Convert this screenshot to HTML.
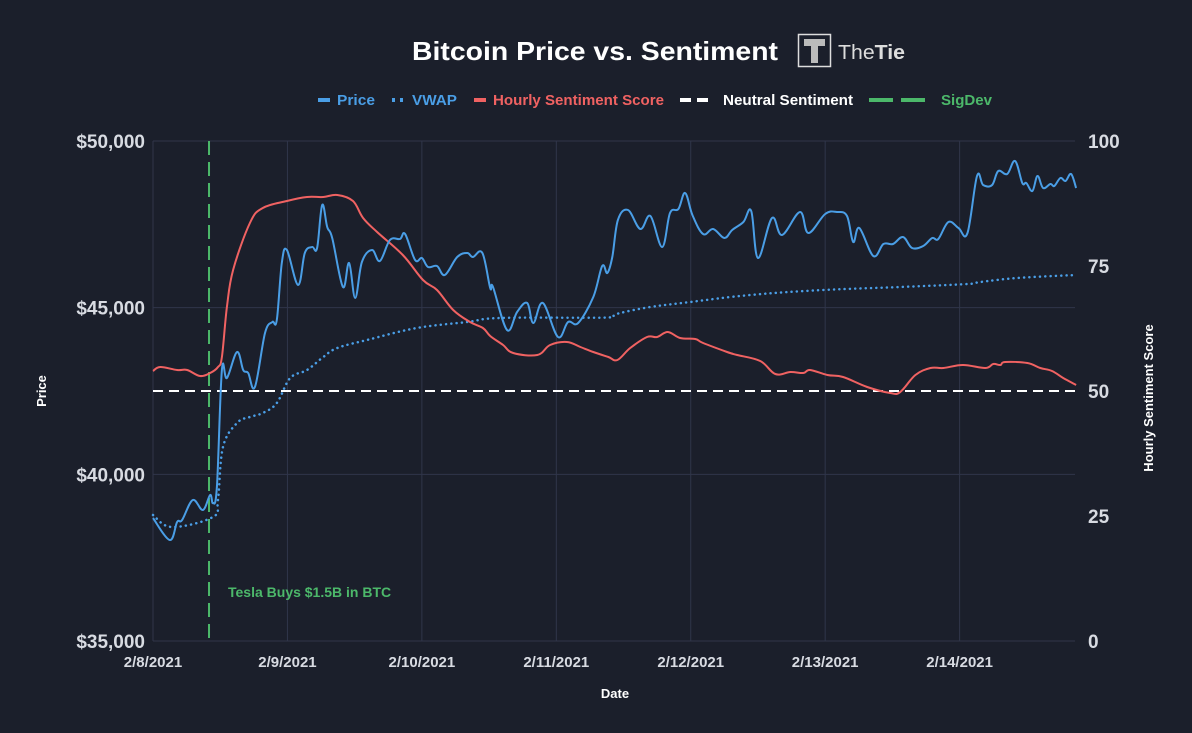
<!DOCTYPE html>
<html><head><meta charset="utf-8"><style>
html,body{margin:0;padding:0;background:#1b1f2b;}
svg{display:block;font-family:"Liberation Sans",sans-serif;}
</style></head><body>
<svg id="chart" width="1192" height="733" viewBox="0 0 1192 733">
<rect x="0" y="0" width="1192" height="733" fill="#1b1f2b"/>
<text x="412" y="60" textLength="366" lengthAdjust="spacingAndGlyphs" font-size="26" font-weight="bold" fill="#fff">Bitcoin Price vs. Sentiment</text>
<g>
<rect x="798.5" y="34.5" width="32" height="32" fill="none" stroke="#ddd" stroke-width="1.5"/>
<rect x="804" y="39" width="21" height="7" fill="#bbb"/>
<rect x="811" y="46" width="7" height="17" fill="#bbb"/>
<text x="838" y="59" font-size="20" fill="#ddd" textLength="67" lengthAdjust="spacingAndGlyphs">The<tspan font-weight="bold">Tie</tspan></text>
</g>
<g id="legend" font-size="15" font-weight="bold">
<g><line x1="318" y1="100" x2="330" y2="100" stroke="#4a9ee6" stroke-width="4"/><text x="337" y="105" fill="#4a9ee6" textLength="38" lengthAdjust="spacingAndGlyphs">Price</text></g>
<g><line x1="392" y1="100" x2="404" y2="100" stroke="#4a9ee6" stroke-width="4" stroke-dasharray="3,5"/><text x="412" y="105" fill="#4a9ee6" textLength="45" lengthAdjust="spacingAndGlyphs">VWAP</text></g>
<g><line x1="474" y1="100" x2="486" y2="100" stroke="#f06262" stroke-width="4"/><text x="493" y="105" fill="#f06262" textLength="171" lengthAdjust="spacingAndGlyphs">Hourly Sentiment Score</text></g>
<g><line x1="680" y1="100" x2="708" y2="100" stroke="#fff" stroke-width="4" stroke-dasharray="11,6"/><text x="723" y="105" fill="#fff" textLength="130" lengthAdjust="spacingAndGlyphs">Neutral Sentiment</text></g>
<g><line x1="869" y1="100" x2="925" y2="100" stroke="#4cb86a" stroke-width="4" stroke-dasharray="24,8"/><text x="941" y="105" fill="#4cb86a" textLength="51" lengthAdjust="spacingAndGlyphs">SigDev</text></g>
</g>
<g id="grid"></g>
<g id="axes"></g>
<g id="series"></g>
<text transform="translate(46,391) rotate(-90)" text-anchor="middle" font-size="13" font-weight="bold" fill="#fff">Price</text>
<text transform="translate(1153,398) rotate(-90)" text-anchor="middle" font-size="13" font-weight="bold" fill="#fff">Hourly Sentiment Score</text>
<text x="615" y="698" text-anchor="middle" font-size="13" font-weight="bold" fill="#fff">Date</text>
</svg>
<script>
const dateLabels=["2/8/2021","2/9/2021","2/10/2021","2/11/2021","2/12/2021","2/13/2021","2/14/2021"];
const priceTicks=[35000,40000,45000,50000];
const sentTicks=[0,25,50,75,100];
const priceHours=[0,3,4.3,5.2,7.1,8.9,10.2,10.7,11.4,12.3,13.2,15,16.1,17,18.2,20,21.3,22.1,23,23.9,25.9,27.1,28.4,29.3,30.2,31.1,32,33.9,35,36.1,37.3,39.1,40.5,42.3,44.1,45,46.8,48,49.1,50.7,52.1,54.3,56.1,57.1,58.8,60.2,60.7,63.2,65,66.8,67.9,69.6,72.3,74.1,75.9,78.6,80.2,81.1,82,83,84.8,87,88.8,90.9,92.3,93.8,95,96.3,98.2,100,102,103.4,105.4,106.8,108,110.5,112.3,115.5,117,120,122.1,123.9,125,126.1,128.6,130.4,132.1,133.9,135.5,137.5,139.1,140.2,142,143.8,145.4,147.1,148.2,149.8,150.9,152.5,153.9,155.2,155.9,157,157.9,158.9,160.2,160.9,162,162.9,163.9,164.8];
const priceValues=[38690,38030,38570,38630,39230,38930,39380,39140,39620,43130,42890,43670,43130,43040,42620,44240,44570,44630,46340,46730,45680,46640,46820,46790,48080,47420,47090,45620,46340,45290,46370,46730,46400,47030,47060,47210,46430,46490,46220,46250,45980,46520,46640,46520,46640,45590,45620,44330,44870,45140,44540,45140,44120,44570,44540,45320,46250,46040,46520,47630,47930,47360,47750,46820,47840,47960,48440,47780,47210,47360,47090,47330,47570,47900,46490,47690,47180,47870,47240,47810,47870,47750,46970,47390,46550,46910,46910,47120,46790,46850,47090,47060,47570,47390,47240,48950,48680,48680,49100,49010,49400,48740,48740,48500,48950,48590,48710,48650,48890,48800,49010,48590];
const vwapHours=[0,3.4,10.7,11.6,12.5,15,17.3,19.6,22.1,24.5,27.5,30.4,32.9,38.2,47.1,56.1,62,79.8,82.1,83.4,88.8,95.9,106.6,119.6,133.4,145.4,147.7,154.3,164.8];
const vwapValues=[38780,38420,38720,39230,40820,41540,41720,41840,42140,42890,43130,43520,43790,44030,44390,44570,44690,44700,44750,44840,45020,45170,45380,45530,45620,45710,45770,45890,45980];
const sentHours=[0,1.3,4.3,6.1,8.4,10.2,11.6,12.3,13.2,14.3,17.3,19.6,23.9,27.5,30.4,32.9,35.7,37.5,40,44.6,48.2,50.7,53.6,56.6,58.9,60.2,62.5,64.3,68.6,70.9,73.9,76.3,78.6,81.3,82.9,85.2,88.2,90,91.9,94.1,96.8,98.2,102.5,104.3,108.4,111.1,113.8,116.1,117.3,120.4,123.2,127.5,131.6,133.4,136.1,138.8,141.1,144.6,148.6,150,151.3,152.1,156.1,158.4,160.5,162.5,164.8];
const sentValues=[54,54.8,54.2,54.2,53,53.6,54.8,56.8,66.8,74.2,83.6,86.6,88,88.8,88.8,89.2,88,84.6,81.8,77.2,72.2,70.2,66.2,63.8,62.6,61,59.2,57.6,57.2,59.2,59.8,58.8,57.8,56.8,56.2,58.6,60.8,60.8,61.8,60.6,60.4,59.6,57.8,57.2,56,53.4,53.8,53.6,54.2,53.2,52.8,50.8,49.6,49.8,53.2,54.6,54.6,55.2,54.6,55.4,55.2,55.8,55.6,54.6,54,52.6,51.2];
const neutralLevel=50;
const sigDevHour=10;
const sigDevLabel="Tesla Buys $1.5B in BTC";

const NS="http://www.w3.org/2000/svg";
const X0=153,X1=1075,Y0=641,Y1=141,HMAX=164.6;
const xs=h=>X0+(X1-X0)*h/HMAX;
const yp=p=>Y0-(p-35000)/15000*(Y0-Y1);
const ys=s=>Y0-s/100*(Y0-Y1);
function mk(tag,attrs,parent){const e=document.createElementNS(NS,tag);for(const k in attrs)e.setAttribute(k,attrs[k]);parent.appendChild(e);return e;}
function smooth(pts){let d="M"+pts[0][0].toFixed(1)+","+pts[0][1].toFixed(1);
 for(let i=0;i<pts.length-1;i++){const p0=pts[Math.max(0,i-1)],p1=pts[i],p2=pts[i+1],p3=pts[Math.min(pts.length-1,i+2)];
 const t=0.18;const c1=[p1[0]+(p2[0]-p0[0])*t,p1[1]+(p2[1]-p0[1])*t],c2=[p2[0]-(p3[0]-p1[0])*t,p2[1]-(p3[1]-p1[1])*t];
 d+=" C"+c1[0].toFixed(1)+","+c1[1].toFixed(1)+" "+c2[0].toFixed(1)+","+c2[1].toFixed(1)+" "+p2[0].toFixed(1)+","+p2[1].toFixed(1);}
 return d;}
const grid=document.getElementById('grid'),axes=document.getElementById('axes'),series=document.getElementById('series');
priceTicks.forEach(p=>{const g=mk('line',{x1:X0,x2:X1,y1:yp(p),y2:yp(p),stroke:'#30364a','stroke-width':1},grid);


const t=mk('text',{x:X0-8,y:yp(p)+7,'text-anchor':'end','font-size':19,'font-weight':'bold',fill:'#d8dbe2'},axes);t.textContent='$'+p.toLocaleString('en-US');

});
dateLabels.forEach((d,i)=>{const x=xs(i*24);const g=mk('line',{x1:x,x2:x,y1:Y1,y2:Y0,stroke:'#30364a','stroke-width':1},grid);


const t=mk('text',{x:x,y:667,'text-anchor':'middle','font-size':15,'font-weight':'bold',fill:'#d8dbe2'},axes);t.textContent=d;

});
sentTicks.forEach(s=>{const t=mk('text',{x:1088,y:ys(s)+7,'font-size':19,'font-weight':'bold',fill:'#d8dbe2'},axes);t.textContent=s;

});
const nl=mk('line',{x1:X0,x2:X1,y1:ys(neutralLevel),y2:ys(neutralLevel),stroke:'#fff','stroke-width':2,'stroke-dasharray':'10,6'},series);


const sd=mk('line',{x1:xs(sigDevHour),x2:xs(sigDevHour),y1:Y1,y2:Y0,stroke:'#4cb86a','stroke-width':2,'stroke-dasharray':'14,7'},series);


const sl=mk('text',{x:xs(sigDevHour)+19,y:597,'font-size':14,'font-weight':'bold',fill:'#4cb86a'},series);sl.textContent=sigDevLabel;


const vw=mk('path',{d:smooth(vwapHours.map((h,i)=>[xs(h),yp(vwapValues[i])])),fill:'none',stroke:'#4a9ee6','stroke-width':2.5,'stroke-dasharray':'0.1,5.2','stroke-linecap':'round'},series);


const se=mk('path',{d:smooth(sentHours.map((h,i)=>[xs(h),ys(sentValues[i])])),fill:'none',stroke:'#f06262','stroke-width':2},series);


const pr=mk('path',{d:smooth(priceHours.map((h,i)=>[xs(h),yp(priceValues[i])])),fill:'none',stroke:'#4a9ee6','stroke-width':2},series);


</script>
</body></html>
